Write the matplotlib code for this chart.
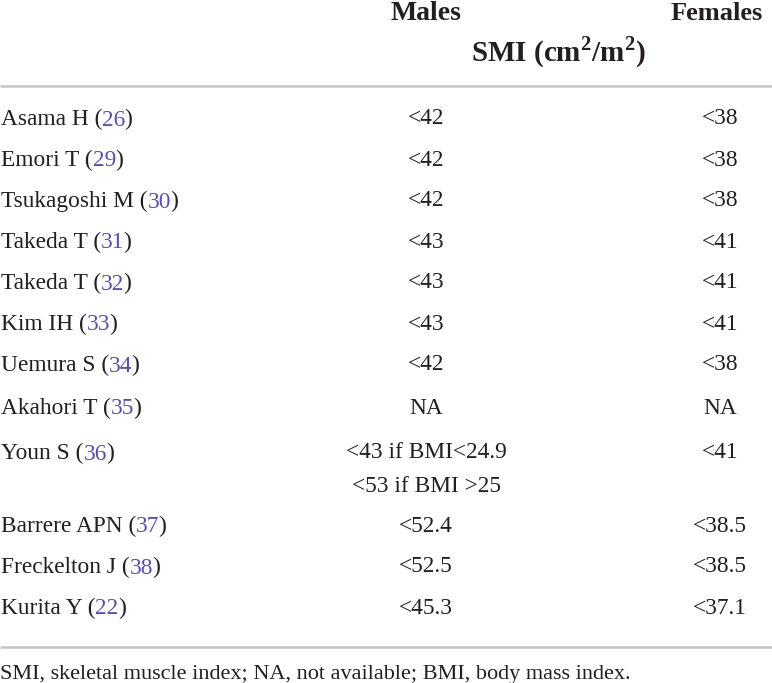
import matplotlib
matplotlib.use("Agg")
import matplotlib.pyplot as plt

plt.rcParams['font.family'] = ['Liberation Serif', 'DejaVu Serif']
plt.rcParams['mathtext.fontset'] = 'custom'
plt.rcParams['mathtext.rm'] = 'Liberation Serif:bold'
plt.rcParams['mathtext.bf'] = 'Liberation Serif:bold'

# table content
authors = ["Asama H", "Emori T", "Tsukagoshi M", "Takeda T", "Takeda T", "Kim IH",
           "Uemura S", "Akahori T", "Youn S", "Barrere APN", "Freckelton J", "Kurita Y"]
refs = ["26", "29", "30", "31", "32", "33", "34", "35", "36", "37", "38", "22"]
males = ["<42", "<42", "<42", "<43", "<43", "<43", "<42", "NA",
         "<43 if BMI<24.9\n<53 if BMI >25", "<52.4", "<52.5", "<45.3"]
females = ["<38", "<38", "<38", "<41", "<41", "<41", "<38", "NA",
           "<41", "<38.5", "<38.5", "<37.1"]
footnote = "SMI, skeletal muscle index; NA, not available; BMI, body mass index."

W, H = 772, 683
txt = "#231f20"
refc = "#5a4fa8"
rule = "#c4c4c4"

fig = plt.figure(figsize=(W / 100, H / 100), dpi=100)
ax = fig.add_axes([0, 0, 1, 1])
ax.set_xlim(0, W)
ax.set_ylim(H, 0)
ax.axis('off')

x_name = 1
x_m = 426
x_f = 720
fs = 16.8
hfs = 20

# header
ax.text(x_m, 14, "Males", ha='center', va='center', fontsize=hfs, fontweight='bold', color=txt)
ax.text(717, 14, "Females", ha='center', va='center', fontsize=19, fontweight='bold', color=txt)
ax.text(558, 52, r"SMI (cm$^{2}$/m$^{2}$)", ha='center', va='center', fontsize=21,
        fontweight='bold', color=txt)
ax.plot([0, W], [86, 86], color=rule, lw=1.8, solid_capstyle='butt')

ys = [119, 160, 201, 242, 283, 324, 365, 408, 453, 526, 567, 608]
for i in range(len(authors)):
    y = ys[i]
    yb = y + 6.5
    t1 = ax.text(x_name, yb, authors[i] + " (", ha='left', va='baseline', fontsize=fs, color=txt)
    t2 = ax.annotate(refs[i], xy=(1, yb), xycoords=(t1, 'data'), ha='left', va='baseline',
                     fontsize=fs, color=refc)
    ax.annotate(")", xy=(1, yb), xycoords=(t2, 'data'), xytext=(-1, 0),
                textcoords='offset pixels', ha='left', va='baseline', fontsize=fs, color=txt)
    if "\n" in males[i]:
        l1, l2 = males[i].split("\n")
        ax.text(x_m, y, l1, ha='center', va='center', fontsize=fs, color=txt)
        ax.text(x_m, y + 33, l2, ha='center', va='center', fontsize=fs, color=txt)
    else:
        ax.text(x_m, y, males[i], ha='center', va='center', fontsize=fs, color=txt)
    ax.text(x_f, y, females[i], ha='center', va='center', fontsize=fs, color=txt)

ax.plot([0, W], [647, 647], color=rule, lw=1.8, solid_capstyle='butt')
ax.text(0, 675, footnote, ha='left', va='center', fontsize=16, color=txt)

fig.savefig("out.png", dpi=100)
